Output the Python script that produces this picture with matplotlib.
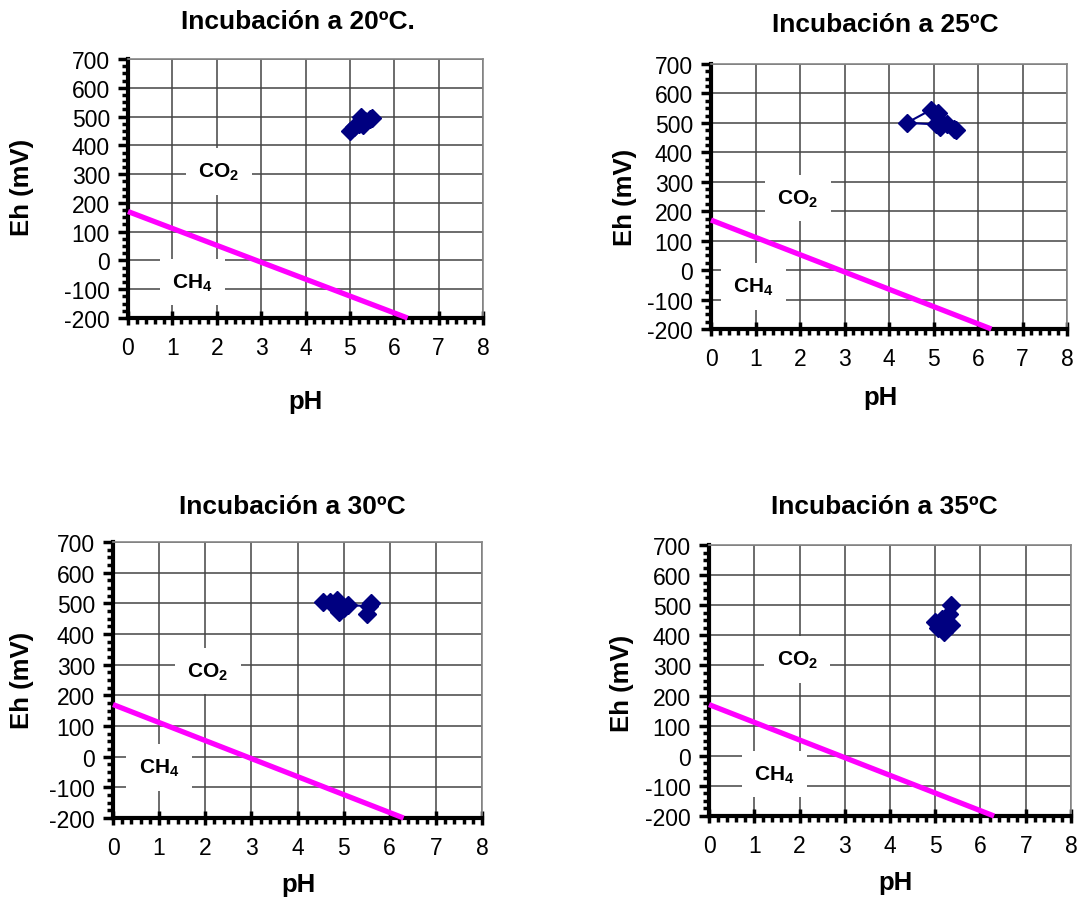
import matplotlib
matplotlib.use("Agg")
import matplotlib.pyplot as plt
from matplotlib.ticker import MultipleLocator
import numpy as np

plt.rcParams['font.family'] = ['Liberation Sans', 'DejaVu Sans']
plt.rcParams['mathtext.fontset'] = 'custom'
plt.rcParams['mathtext.rm'] = 'Liberation Sans'
plt.rcParams['mathtext.bf'] = 'Liberation Sans:bold'
plt.rcParams['axes.unicode_minus'] = False

# ---- data ----
titles = ["Incubación a 20ºC.", "Incubación a 25ºC", "Incubación a 30ºC", "Incubación a 35ºC"]

ph_20 = [5.0, 5.1, 5.2, 5.25, 5.3, 5.35, 5.45, 5.5, 5.3]
eh_20 = [450, 465, 475, 500, 470, 485, 490, 495, 480]

ph_25 = [5.1, 4.95, 4.4, 5.05, 5.15, 5.2, 5.3, 5.45, 5.5]
eh_25 = [535, 545, 500, 495, 485, 500, 495, 480, 475]

ph_30 = [4.55, 4.7, 4.85, 5.0, 4.9, 5.1, 5.55, 5.6, 5.5]
eh_30 = [505, 505, 512, 485, 472, 495, 490, 500, 465]

ph_35 = [5.35, 5.3, 5.15, 5.0, 5.05, 5.2, 5.35, 5.2, 5.1]
eh_35 = [500, 470, 455, 445, 425, 410, 435, 445, 430]

# CO2/CH4 boundary line
boundary_ph = [0.0, 6.3]
boundary_eh = [170, -200]

x_ticks = [0, 1, 2, 3, 4, 5, 6, 7, 8]
y_ticks = [-200, -100, 0, 100, 200, 300, 400, 500, 600, 700]

# label positions (pH, Eh) for region labels
co2_pos = [(2.05, 310), (1.95, 245), (2.05, 280), (1.95, 320)]
ch4_pos = [(1.45, -75), (0.95, -55), (1.0, -35), (1.45, -60)]

series = [(ph_20, eh_20), (ph_25, eh_25), (ph_30, eh_30), (ph_35, eh_35)]

W, H = 1083, 904
fig = plt.figure(figsize=(W / 100, H / 100), dpi=100)

# axes boxes in pixels: left, right, top, bottom
boxes = [(128, 483, 60, 319), (711, 1067, 65, 330), (113, 482, 543, 819), (709, 1071, 546, 817)]
title_pos = [(298, 22), (885, 25), (292, 507), (884, 507)]
ph_pos = [(305, 402), (880, 398), (298, 885), (895, 883)]
eh_pos = [(22, 187), (625, 197), (22, 680), (622, 683)]

def fx(x):
    return x / W

def fy(y):
    return 1 - y / H

for i in range(4):
    l, r, t, b = boxes[i]
    ax = fig.add_axes([fx(l), fy(b), (r - l) / W, (b - t) / H])
    ax.set_xlim(0, 8)
    ax.set_ylim(-200, 700)
    ax.set_xticks(x_ticks)
    ax.set_yticks(y_ticks)
    ax.xaxis.set_minor_locator(MultipleLocator(0.2))
    ax.yaxis.set_minor_locator(MultipleLocator(25))
    ax.grid(True, which='major', color='#444444', linewidth=1.1)
    ax.set_axisbelow(True)
    for s in ['top', 'right']:
        ax.spines[s].set_color('#888888')
        ax.spines[s].set_linewidth(1.2)
    for s in ['left', 'bottom']:
        ax.spines[s].set_color('black')
        ax.spines[s].set_linewidth(3)
    ax.tick_params(axis='y', which='major', direction='out', length=7, width=2.5,
                   labelsize=16.5, pad=6)
    ax.tick_params(axis='y', which='minor', direction='out', length=4, width=2.5)
    ax.tick_params(axis='x', which='major', direction='inout', length=10, width=2.5,
                   labelsize=16.5, pad=8)
    ax.tick_params(axis='x', which='minor', direction='out', length=4, width=2.5)

    ax.plot(boundary_ph, boundary_eh, color='#FF00FF', linewidth=3.8,
            solid_capstyle='butt', zorder=3, clip_on=False)
    phs, ehs = series[i]
    ax.plot(phs, ehs, color='#000080', linewidth=1.5, marker='D', markersize=9,
            markerfacecolor='#000080', markeredgecolor='#000080', zorder=4)

    cx, cy = co2_pos[i]
    ax.text(cx, cy, r'CO$_\mathbf{2}$', fontsize=15, fontweight='bold', ha='center', va='center',
            bbox=dict(boxstyle='square,pad=0.6', facecolor='white', edgecolor='none'), zorder=5)
    hx, hy = ch4_pos[i]
    ax.text(hx, hy, r'CH$_\mathbf{4}$', fontsize=15, fontweight='bold', ha='center', va='center',
            bbox=dict(boxstyle='square,pad=0.6', facecolor='white', edgecolor='none'), zorder=5)

    tx, ty = title_pos[i]
    fig.text(fx(tx), fy(ty), titles[i], fontsize=19, fontweight='bold', ha='center', va='center')
    px, py = ph_pos[i]
    fig.text(fx(px), fy(py), 'pH', fontsize=18.5, fontweight='bold', ha='center', va='center')
    ex, ey = eh_pos[i]
    fig.text(fx(ex), fy(ey), 'Eh (mV)', fontsize=18.5, fontweight='bold', ha='center', va='center',
             rotation=90)

fig.savefig('out.png', dpi=100)
